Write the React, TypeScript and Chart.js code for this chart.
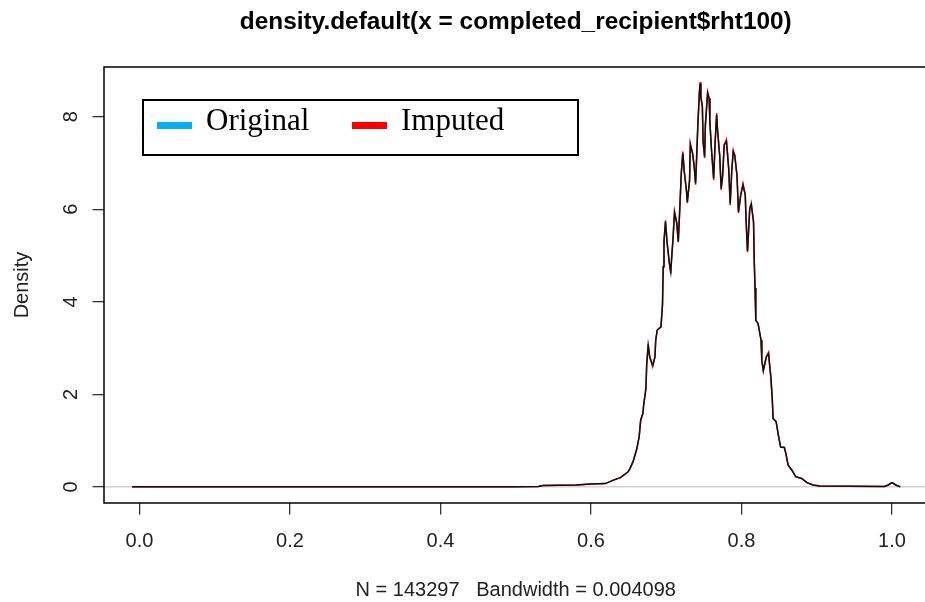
import { useEffect, useRef } from "react";
import { Chart, registerables } from "chart.js";

Chart.register(...registerables);

// Kernel density estimate of completed_recipient$rht100 (grid of x values)
const densityX = [
  -0.010, -0.005, 0.100, 0.300, 0.500, 0.530, 0.536, 0.580, 0.600, 0.619,
  0.629, 0.639, 0.649, 0.652, 0.656, 0.661, 0.664, 0.666, 0.669, 0.670,
  0.673, 0.674, 0.676, 0.678, 0.682, 0.685, 0.686, 0.688, 0.693, 0.695,
  0.696, 0.697, 0.699, 0.701, 0.704, 0.706, 0.707, 0.709, 0.711, 0.714,
  0.716, 0.718, 0.720, 0.722, 0.724, 0.727, 0.728, 0.731, 0.732, 0.735,
  0.737, 0.739, 0.740, 0.742, 0.744, 0.745, 0.746, 0.748, 0.749, 0.751,
  0.752, 0.755, 0.757, 0.758, 0.760, 0.763, 0.765, 0.767, 0.768, 0.771,
  0.773, 0.775, 0.777, 0.780, 0.783, 0.785, 0.787, 0.789, 0.791, 0.794,
  0.796, 0.799, 0.802, 0.805, 0.806, 0.808, 0.811, 0.813, 0.816, 0.817,
  0.818, 0.819, 0.822, 0.826, 0.827, 0.829, 0.833, 0.836, 0.837, 0.839,
  0.841, 0.842, 0.846, 0.849, 0.852, 0.857, 0.859, 0.862, 0.867, 0.872,
  0.880, 0.887, 0.895, 0.904, 0.942, 0.990, 0.995, 1.000, 1.005, 1.011,
];

// Density of the original observations (drawn in black)
const originalDensity = [
  0.000, 0.002, 0.001, 0.001, 0.002, 0.006, 0.030, 0.040, 0.060, 0.070,
  0.140, 0.200, 0.320, 0.400, 0.550, 0.830, 1.080, 1.440, 1.590, 1.770,
  2.130, 2.630, 3.060, 2.810, 2.630, 2.810, 3.170, 3.390, 3.460, 3.930,
  4.760, 5.300, 5.730, 5.300, 4.860, 4.650, 4.900, 5.370, 5.930, 5.700,
  5.300, 6.020, 6.780, 7.210, 6.810, 6.380, 6.160, 6.630, 7.390, 7.210,
  6.950, 6.560, 6.950, 7.820, 8.510, 8.720, 8.430, 8.220, 7.460, 7.140,
  7.820, 8.510, 8.400, 7.890, 7.320, 6.670, 7.460, 8.040, 7.750, 7.170,
  6.450, 6.740, 7.390, 7.460, 6.880, 6.130, 6.810, 7.240, 7.170, 6.740,
  5.950, 6.310, 6.520, 6.310, 5.800, 5.100, 6.020, 6.100, 5.730, 4.860,
  4.300, 3.600, 3.530, 3.170, 2.740, 2.520, 2.810, 2.880, 2.700, 2.380,
  1.870, 1.480, 1.410, 1.120, 0.860, 0.850, 0.720, 0.470, 0.360, 0.220,
  0.180, 0.090, 0.040, 0.020, 0.015, 0.010, 0.040, 0.090, 0.040, 0.000,
];

// Density after imputation (drawn in red, underneath)
const imputedDensity = [
  0.000, 0.002, 0.001, 0.001, 0.002, 0.006, 0.030, 0.040, 0.060, 0.070,
  0.140, 0.200, 0.320, 0.400, 0.550, 0.830, 1.080, 1.440, 1.590, 1.770,
  2.130, 2.630, 3.090, 2.810, 2.600, 2.810, 3.170, 3.390, 3.460, 3.930,
  4.760, 5.300, 5.760, 5.300, 4.860, 4.610, 4.900, 5.370, 5.960, 5.700,
  5.290, 6.020, 6.780, 7.250, 6.810, 6.380, 6.130, 6.630, 7.430, 7.210,
  6.950, 6.530, 6.950, 7.820, 8.510, 8.750, 8.430, 8.220, 7.460, 7.110,
  7.820, 8.540, 8.400, 7.890, 7.320, 6.630, 7.460, 8.080, 7.750, 7.170,
  6.420, 6.740, 7.390, 7.510, 6.880, 6.090, 6.810, 7.280, 7.170, 6.740,
  5.920, 6.310, 6.560, 6.310, 5.800, 5.070, 6.020, 6.140, 5.730, 4.860,
  4.300, 3.600, 3.530, 3.170, 2.740, 2.500, 2.810, 2.910, 2.700, 2.380,
  1.870, 1.480, 1.410, 1.120, 0.860, 0.850, 0.720, 0.470, 0.360, 0.220,
  0.180, 0.090, 0.040, 0.020, 0.015, 0.010, 0.040, 0.090, 0.040, 0.000,
];

const xTickValues = [0, 0.2, 0.4, 0.6, 0.8, 1.0];
const yTickValues = [0, 2, 4, 6, 8];

const legendLabels = ["Original", "Imputed"];
const legendColors = ["#00b0f0", "#ff0000"];

const mainTitle = "density.default(x = completed_recipient$rht100)";
const subTitle = "N = 143297   Bandwidth = 0.004098";
const yTitle = "Density";

const SANS = "'Liberation Sans', Arial, Helvetica, sans-serif";
const SERIF = "'Liberation Serif', 'Times New Roman', serif";

const CANVAS_W = 940;
const CANVAS_H = 602;

// Base-graphics style decorations: zero line, plot box, rotated y labels, titles, legend
const baseGraphics = {
  id: "baseGraphics",
  beforeDatasetsDraw(chart: any) {
    const { ctx, chartArea: a, scales } = chart;
    const y0 = scales.y.getPixelForValue(0);
    ctx.save();
    ctx.strokeStyle = "#d3d3d3";
    ctx.lineWidth = 1.5;
    ctx.beginPath();
    ctx.moveTo(a.left, y0);
    ctx.lineTo(a.right, y0);
    ctx.stroke();
    ctx.restore();
  },
  afterDraw(chart: any) {
    const { ctx, chartArea: a, scales } = chart;
    const cx = (a.left + a.right) / 2;
    const cy = (a.top + a.bottom) / 2;
    ctx.save();

    // plot box
    ctx.strokeStyle = "#000";
    ctx.lineWidth = 1.5;
    ctx.strokeRect(a.left, a.top, a.right - a.left, a.bottom - a.top);

    // y tick labels, parallel to the axis
    ctx.fillStyle = "#222";
    ctx.font = `20px ${SANS}`;
    ctx.textAlign = "center";
    ctx.textBaseline = "alphabetic";
    for (const t of scales.y.ticks) {
      const py = scales.y.getPixelForValue(t.value);
      ctx.save();
      ctx.translate(a.left - 27.5, py);
      ctx.rotate(-Math.PI / 2);
      ctx.fillText(String(t.value), 0, 0);
      ctx.restore();
    }

    // y axis title
    ctx.save();
    ctx.translate(27.5, cy);
    ctx.rotate(-Math.PI / 2);
    ctx.fillText(yTitle, 0, 0);
    ctx.restore();

    // sub title
    ctx.fillText(subTitle, cx, 596);

    // main title
    ctx.fillStyle = "#000";
    ctx.font = `bold 24.4px ${SANS}`;
    ctx.fillText(mainTitle, cx, 29);

    // legend
    const lx = a.left + 39;
    const ly = a.top + 33;
    ctx.lineWidth = 2;
    ctx.strokeStyle = "#000";
    ctx.strokeRect(lx, ly, 435, 55);
    ctx.font = `31px ${SERIF}`;
    ctx.textAlign = "left";
    const offsets = [0, 195];
    legendLabels.forEach((label, i) => {
      const ox = lx + 14 + offsets[i];
      ctx.fillStyle = legendColors[i];
      ctx.fillRect(ox, ly + 22, 35, 7);
      ctx.fillStyle = "#000";
      ctx.fillText(label, ox + 49, ly + 29.5);
    });

    ctx.restore();
  },
};

export default function App() {
  const canvasRef = useRef<HTMLCanvasElement | null>(null);

  useEffect(() => {
    const canvas = canvasRef.current;
    if (!canvas) return;

    const toPoints = (ys: number[]) => densityX.map((x, i) => ({ x, y: ys[i] }));

    const chart = new Chart(canvas, {
      type: "line",
      data: {
        datasets: [
          {
            label: "Original",
            data: toPoints(originalDensity),
            borderColor: "#111111",
            borderWidth: 1.5,
            pointRadius: 0,
            tension: 0,
            fill: false,
          },
          {
            label: "Imputed",
            data: toPoints(imputedDensity),
            borderColor: "#ff0000",
            borderWidth: 1.5,
            pointRadius: 0,
            tension: 0,
            fill: false,
          },
        ],
      },
      options: {
        animation: false,
        responsive: false,
        maintainAspectRatio: false,
        devicePixelRatio: 1,
        layout: { padding: { top: 67, left: 0, right: CANVAS_W - 927.5, bottom: 0 } },
        plugins: {
          legend: { display: false },
          tooltip: { enabled: false },
          title: { display: false },
        },
        scales: {
          x: {
            type: "linear",
            min: -0.0472,
            max: 1.0472,
            afterBuildTicks: (s: any) => {
              s.ticks = xTickValues.map((v) => ({ value: v }));
            },
            afterFit: (s: any) => {
              s.height = 99;
            },
            border: { display: false },
            grid: {
              drawOnChartArea: false,
              drawTicks: true,
              tickLength: 11.5,
              color: "#333",
              lineWidth: 1.3,
            },
            ticks: {
              autoSkip: false,
              maxRotation: 0,
              minRotation: 0,
              padding: 14.5,
              color: "#222",
              font: { family: SANS, size: 20 },
              callback: (v: any) => Number(v).toFixed(1),
            },
          },
          y: {
            type: "linear",
            min: -0.349,
            max: 9.076,
            afterBuildTicks: (s: any) => {
              s.ticks = yTickValues.map((v) => ({ value: v }));
            },
            afterFit: (s: any) => {
              s.width = 104;
            },
            border: { display: false },
            grid: {
              drawOnChartArea: false,
              drawTicks: true,
              tickLength: 11.5,
              color: "#333",
              lineWidth: 1.3,
            },
            ticks: { display: false },
          },
        },
      },
      plugins: [baseGraphics],
    });

    return () => chart.destroy();
  }, []);

  return (
    <div style={{ position: "fixed", left: 0, top: 0, width: CANVAS_W, height: CANVAS_H, background: "#fff" }}>
      <canvas ref={canvasRef} width={CANVAS_W} height={CANVAS_H} style={{ display: "block" }} />
    </div>
  );
}
